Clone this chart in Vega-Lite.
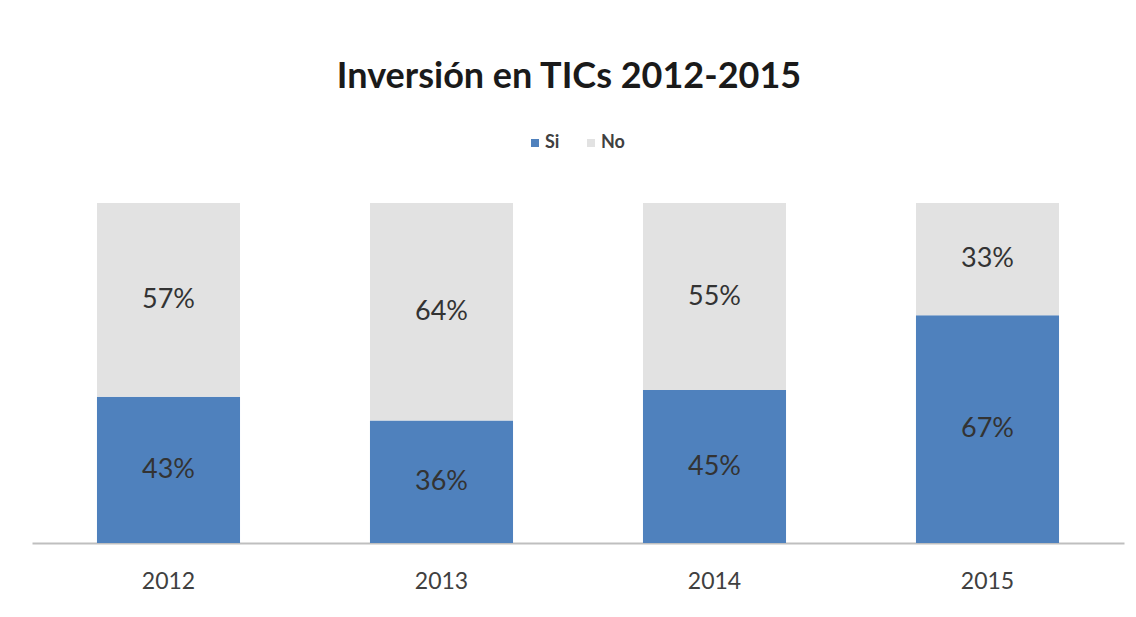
{
  "$schema": "https://vega.github.io/schema/vega-lite/v6.json",
  "width": 1092,
  "height": 340,
  "autosize": {"type": "none"},
  "padding": {"left": 32, "top": 203, "right": 12, "bottom": 74},
  "background": "white",
  "title": {
    "text": "Inversión en TICs 2012-2015",
    "font": "Lato",
    "fontSize": 36,
    "fontWeight": "bold",
    "color": "#1a1a1a",
    "anchor": "middle",
    "dx": -9,
    "offset": 38
  },
  "config": {"view": {"stroke": null}},
  "data": {
    "values": [
      {"year": "2012", "cat": "Si", "value": 0.43},
      {"year": "2012", "cat": "No", "value": 0.57},
      {"year": "2013", "cat": "Si", "value": 0.36},
      {"year": "2013", "cat": "No", "value": 0.64},
      {"year": "2014", "cat": "Si", "value": 0.45},
      {"year": "2014", "cat": "No", "value": 0.55},
      {"year": "2015", "cat": "Si", "value": 0.67},
      {"year": "2015", "cat": "No", "value": 0.33}
    ]
  },
  "encoding": {
    "x": {
      "field": "year",
      "type": "nominal",
      "title": null,
      "scale": {"paddingInner": 0.476, "paddingOuter": 0.238},
      "axis": {
        "labelAngle": 0,
        "labelFont": "Lato",
        "labelFontSize": 23,
        "labelColor": "#404040",
        "labelPadding": 27,
        "ticks": false,
        "domainColor": "#bfbfbf",
        "domainWidth": 2,
        "grid": false
      }
    },
    "order": {"field": "cat", "sort": "descending"}
  },
  "layer": [
    {
      "mark": {"type": "bar"},
      "encoding": {
        "y": {"field": "value", "type": "quantitative", "stack": "zero", "scale": {"domain": [0, 1]}, "axis": null},
        "color": {
          "field": "cat",
          "type": "nominal",
          "scale": {"domain": ["Si", "No"], "range": ["#4f81bd", "#e2e2e2"]},
          "legend": {
            "title": null,
            "orient": "none",
            "direction": "horizontal",
            "legendX": 494,
            "legendY": -69,
            "symbolType": "square",
            "symbolSize": 64,
            "symbolStrokeWidth": 0,
            "labelFont": "Lato",
            "labelFontSize": 18,
            "labelFontWeight": "bold",
            "labelColor": "#404040",
            "columnPadding": 22,
            "labelOffset": 1
          }
        }
      }
    },
    {
      "mark": {"type": "text", "font": "Lato", "fontSize": 27, "color": "#333333", "baseline": "middle"},
      "encoding": {
        "y": {"field": "value", "type": "quantitative", "stack": "zero", "bandPosition": 0.5},
        "detail": {"field": "cat"},
        "text": {"field": "value", "type": "quantitative", "format": ".0%"}
      }
    }
  ]
}
